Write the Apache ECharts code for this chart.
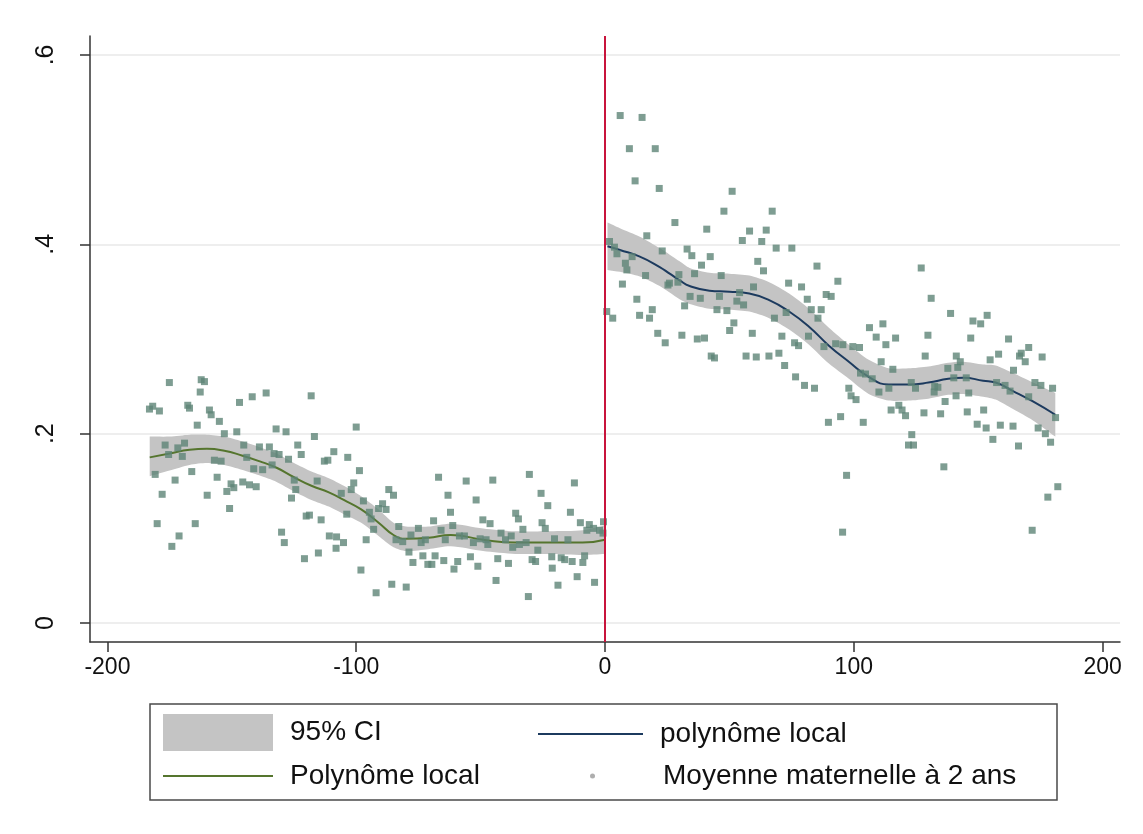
<!DOCTYPE html>
<html>
<head>
<meta charset="utf-8">
<title>Moyenne maternelle à 2 ans</title>
<script src="https://cdn.jsdelivr.net/npm/echarts@6/dist/echarts.min.js"></script>
<style>
  html, body { margin: 0; padding: 0; background: #fff; }
  #chart { width: 1143px; height: 834px; }
</style>
</head>
<body>
<div id="chart"></div>
<script>
// scatter: left of cutoff
const leftX = [-175.1,-162.3,-161.0,-162.7,-183.1,-181.8,-179.1,-167.7,-167.0,-159.0,-158.3,-155.0,-163.9,-146.9,-141.8,-136.2,-153.0,-148.0,-132.2,-128.2,-123.5,-176.8,-175.4,-171.7,-169.0,-169.9,-180.8,-172.8,-166.1,-178.0,-157.0,-154.3,-155.9,-159.9,-150.3,-152.0,-149.2,-150.9,-145.6,-142.9,-140.2,-145.2,-144.0,-141.2,-138.9,-137.6,-134.9,-133.8,-133.0,-131.0,-127.2,-124.9,-124.3,-126.0,-180.0,-164.7,-171.2,-174.1,-130.0,-128.9,
  -118.1,-100.0,-116.8,-122.1,-112.8,-111.4,-109.0,-103.4,-98.7,-115.7,-101.0,-102.0,-106.0,-97.1,-120.1,-118.8,-114.1,-103.8,-94.7,-94.0,-91.0,-89.4,-88.0,-86.9,-85.0,-93.0,-96.0,-110.8,-107.9,-105.1,-108.1,-120.8,-115.2,-82.9,-84.0,-81.3,-78.0,-75.0,-73.9,-72.2,-78.8,-73.2,-77.2,-71.2,-69.6,-68.3,-64.8,-68.9,-65.9,-64.2,-66.9,-63.1,-62.1,-61.2,-98.1,-92.0,-85.7,-79.9,-60.7,
  -55.8,-45.1,-30.4,-12.3,-51.8,-25.7,-23.0,-35.9,-34.8,-49.1,-46.2,-33.0,-25.3,-24.0,-13.9,-9.9,-6.3,-4.6,-7.3,-2.2,-0.6,-0.8,-58.5,-56.5,-52.9,-50.2,-47.8,-47.1,-41.8,-40.0,-37.7,-37.1,-34.4,-31.7,-20.3,-14.9,-27.0,-59.2,-54.1,-51.1,-43.1,-38.8,-29.3,-27.9,-21.4,-21.2,-17.6,-16.2,-13.2,-8.9,-8.2,-43.8,-18.9,-11.2,-4.2,-30.8];
const leftY = [.254,.257,.255,.244,.226,.229,.224,.230,.227,.225,.220,.213,.209,.233,.239,.243,.200,.202,.205,.202,.188,.188,.178,.185,.190,.176,.157,.151,.160,.136,.172,.171,.154,.135,.147,.139,.143,.121,.149,.146,.144,.188,.175,.163,.186,.162,.186,.167,.179,.178,.173,.151,.141,.132,.105,.105,.092,.081,.096,.085,
  .240,.207,.197,.178,.171,.172,.181,.175,.161,.150,.148,.141,.137,.129,.113,.114,.109,.115,.117,.110,.121,.126,.120,.141,.135,.099,.088,.092,.091,.085,.079,.068,.074,.102,.088,.086,.093,.100,.085,.088,.075,.071,.064,.062,.062,.071,.066,.108,.098,.088,.154,.135,.117,.103,.056,.032,.041,.038,.057,
  .150,.151,.157,.148,.130,.137,.124,.116,.110,.109,.105,.099,.106,.100,.117,.106,.104,.100,.098,.098,.107,.095,.092,.092,.085,.089,.088,.083,.095,.088,.092,.080,.083,.085,.089,.088,.077,.065,.070,.060,.068,.063,.067,.065,.070,.058,.069,.067,.065,.064,.071,.045,.040,.049,.043,.028];

// scatter: right of cutoff
const rightX = [6.1,14.9,9.8,20.2,12.1,21.8,51.1,47.8,28.1,40.9,58.1,55.2,16.8,1.8,3.8,4.8,8.2,8.8,10.9,23.0,33.0,34.9,42.3,38.8,61.4,16.3,7.0,36.0,29.7,25.9,25.3,29.3,46.7,59.7,12.8,34.2,38.3,46.0,53.0,54.1,55.7,32.0,0.7,3.1,13.9,19.0,17.9,45.0,49.0,51.8,50.1,59.2,21.2,24.2,30.9,37.1,40.0,42.7,44.0,56.7,60.8,
  67.2,64.8,63.0,68.8,75.1,63.7,85.2,93.6,73.8,79.0,88.9,90.9,81.3,82.9,86.9,85.6,72.8,68.1,71.1,76.2,77.8,81.8,88.0,92.7,95.6,99.6,102.3,106.3,111.7,109.0,112.9,116.8,111.0,115.7,65.9,69.9,72.2,76.6,80.2,84.2,102.7,104.7,107.4,110.1,114.1,98.0,98.9,100.9,123.1,115.0,118.1,119.4,120.8,89.8,94.7,103.8,123.3,122.0,97.1,95.5,
  127.1,131.1,138.9,147.9,151.0,153.6,129.8,147.0,162.2,170.3,167.3,166.6,168.9,175.7,128.7,141.2,142.8,158.2,154.8,137.8,141.8,164.2,140.2,145.2,124.8,132.5,133.8,132.3,157.4,160.8,162.8,172.8,175.2,179.9,141.1,146.2,170.3,136.7,128.2,134.9,145.6,152.2,181.1,149.6,153.2,158.9,164.0,174.1,177.0,179.1,124.0,155.9,166.2,136.2,182.0,178.0,171.7];
const rightY = [.536,.534,.501,.501,.467,.459,.456,.435,.423,.416,.414,.404,.409,.403,.397,.390,.380,.373,.387,.393,.395,.388,.387,.378,.382,.367,.358,.369,.368,.359,.357,.360,.367,.355,.342,.345,.343,.345,.340,.349,.336,.335,.329,.322,.325,.331,.322,.331,.330,.317,.309,.306,.306,.296,.304,.300,.301,.282,.280,.282,.281,
  .435,.415,.403,.396,.396,.372,.377,.361,.359,.355,.347,.345,.342,.331,.331,.322,.328,.322,.303,.296,.293,.303,.292,.295,.294,.292,.291,.312,.316,.302,.294,.301,.276,.268,.282,.285,.272,.260,.251,.248,.264,.263,.258,.244,.248,.248,.240,.236,.254,.225,.230,.225,.219,.212,.218,.212,.199,.188,.156,.096,
  .375,.343,.327,.319,.316,.325,.304,.301,.300,.291,.285,.282,.276,.281,.282,.282,.276,.284,.278,.269,.270,.267,.259,.259,.248,.250,.249,.244,.254,.251,.245,.254,.251,.248,.240,.243,.239,.234,.222,.221,.223,.225,.217,.210,.206,.209,.208,.206,.200,.191,.188,.194,.187,.165,.144,.133,.098];

// local polynomial fits and 95% CI
const fitLX  = [-183,-175,-167,-160,-153,-146,-139,-132,-125,-118,-111,-105,-98,-91,-85,-80,-71,-62,-49,-36,-22,-9,0];
const fitLY  = [.175,.179,.183,.184,.182,.177,.171,.164,.154,.145,.138,.130,.120,.106,.093,.089,.090,.093,.088,.085,.085,.085,.088];
const ciLowL = [.155,.161,.167,.169,.167,.162,.156,.149,.139,.130,.123,.115,.106,.092,.080,.076,.078,.081,.076,.073,.073,.072,.073];
const ciUpL  = [.197,.197,.199,.199,.197,.192,.186,.179,.169,.160,.153,.145,.134,.120,.106,.102,.102,.105,.100,.097,.097,.098,.103];

const fitRX  = [1,6,14,22,26,30,34,42,50,58,66,74,82,90,98,106,114,122,130,138,144,152,157,164,172,181];
const fitRY  = [.398,.394,.387,.376,.369,.362,.356,.351,.350,.348,.341,.329,.313,.293,.276,.260,.252,.252,.254,.258,.259,.256,.254,.245,.234,.220];
const ciLowR = [.373,.371,.366,.356,.349,.342,.337,.332,.331,.329,.322,.310,.294,.274,.258,.242,.235,.235,.237,.241,.242,.239,.236,.226,.214,.197];
const ciUpR  = [.423,.417,.408,.396,.389,.382,.375,.370,.369,.367,.360,.348,.332,.312,.294,.278,.269,.269,.271,.275,.276,.273,.272,.264,.254,.243];

const xTicks = [-200, -100, 0, 100, 200];
const yTicks = [0, 0.2, 0.4, 0.6];

const FONT = 'Liberation Sans, Arial, Helvetica, sans-serif';
const CI_COLOR = '#c4c4c4';
const GREEN = '#55752e';
const NAVY = '#1c3a5e';
const DOT = '#5e8577';

const zip = (a, b) => a.map((v, i) => [v, b[i]]);

const chart = echarts.init(document.getElementById('chart'));

// CI band drawn as one polygon through the axis scales
function bandSeries(xs, low, up) {
  return {
    type: 'custom', name: '95% CI', silent: true, z: 1,
    data: xs.map((x, i) => [x, low[i], up[i]]),
    encode: { x: 0, y: [1, 2] },
    itemStyle: { color: CI_COLOR },
    renderItem: (params, api) => {
      if (params.dataIndex !== 0) return null;
      const top = xs.map((x, i) => api.coord([x, up[i]]));
      const bot = xs.map((x, i) => api.coord([x, low[i]])).reverse();
      // repeat the end points so the smoothing keeps square ends
      const pts = [top[0]].concat(top, [top[top.length - 1]], [bot[0]], bot, [bot[bot.length - 1]]);
      return {
        type: 'polygon',
        shape: { points: pts, smooth: 0.25 },
        style: { fill: CI_COLOR }
      };
    }
  };
}

const legendText = { fontFamily: FONT, fontSize: 28, color: '#111', padding: [0, 0, 0, 12] };

chart.setOption({
  animation: false,
  backgroundColor: '#fff',
  grid: { left: 90, right: 23, top: 36, bottom: 192 },
  xAxis: {
    type: 'value', min: -207, max: 207,
    axisLine: { onZero: false, lineStyle: { color: '#333', width: 1.5 } },
    axisTick: { customValues: xTicks, length: 10, lineStyle: { color: '#333', width: 1.5 } },
    axisLabel: { customValues: xTicks, margin: 14, fontFamily: FONT, fontSize: 23, color: '#111' },
    splitLine: { show: false }
  },
  yAxis: {
    type: 'value', min: -0.02, max: 0.62,
    axisLine: { show: true, onZero: false, lineStyle: { color: '#333', width: 1.5 } },
    axisTick: { show: true, customValues: yTicks, length: 10, lineStyle: { color: '#333', width: 1.5 } },
    axisLabel: {
      customValues: yTicks, rotate: 90, margin: 31, fontFamily: FONT, fontSize: 25, color: '#111',
      formatter: v => v === 0 ? '0' : String(v).replace(/^0\./, '.')
    },
    splitLine: { show: true, lineStyle: { color: '#e9e9e9', width: 1.5 } }
  },
  legend: [
    { data: [{ name: '95% CI', icon: 'rect', itemStyle: { color: CI_COLOR } }],
      left: 163, top: 714, padding: 0, itemWidth: 110, itemHeight: 37, selectedMode: false, textStyle: legendText },
    { data: [{ name: 'polynôme local', icon: 'rect', itemStyle: { color: NAVY } }],
      left: 538, top: 720, padding: 0, itemWidth: 105, itemHeight: 2, selectedMode: false, textStyle: legendText },
    { data: [{ name: 'Polynôme local', icon: 'rect', itemStyle: { color: GREEN } }],
      left: 163, top: 762, padding: 0, itemWidth: 110, itemHeight: 2, selectedMode: false, textStyle: legendText },
    { data: [{ name: 'Moyenne maternelle à 2 ans', icon: 'circle', itemStyle: { color: '#9a9a9a' } }],
      left: 590, top: 762, padding: 0, itemWidth: 5, itemHeight: 5, selectedMode: false,
      textStyle: Object.assign({}, legendText, { padding: [0, 0, 0, 63] }) }
  ],
  graphic: [
    { type: 'rect', shape: { x: 150, y: 704, width: 907, height: 96 },
      style: { fill: 'none', stroke: '#4a4a4a', lineWidth: 1.5 }, silent: true }
  ],
  series: [
    bandSeries(fitLX, ciLowL, ciUpL),
    bandSeries(fitRX, ciLowR, ciUpR),
    {
      type: 'line', name: 'polynôme local', data: zip(fitRX, fitRY),
      smooth: true, symbol: 'none', z: 2,
      itemStyle: { color: NAVY }, lineStyle: { color: NAVY, width: 2 }
    },
    {
      type: 'line', name: 'Polynôme local', data: zip(fitLX, fitLY),
      smooth: true, symbol: 'none', z: 2,
      itemStyle: { color: GREEN }, lineStyle: { color: GREEN, width: 2 }
    },
    {
      type: 'scatter', name: 'Moyenne maternelle à 2 ans',
      data: zip(leftX, leftY).concat(zip(rightX, rightY)),
      symbol: 'rect', symbolSize: 7, z: 3,
      itemStyle: { color: DOT },
      markLine: {
        silent: true, symbol: ['none', 'none'], label: { show: false },
        lineStyle: { color: '#c8143c', width: 2, type: 'solid' },
        data: [{ xAxis: 0 }]
      }
    }
  ]
});
</script>
</body>
</html>
